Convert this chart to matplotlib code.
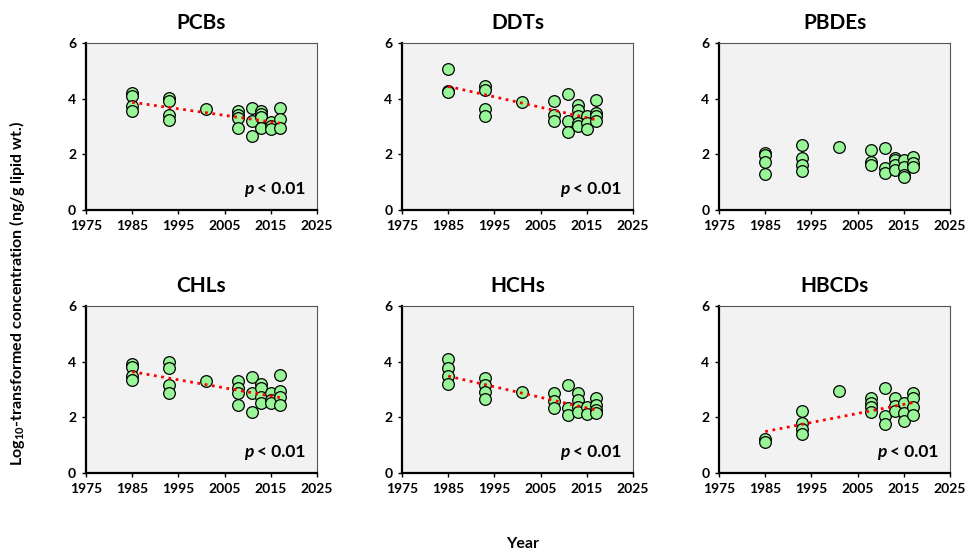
import matplotlib
matplotlib.use('Agg')
import matplotlib.pyplot as plt
import numpy as np

plt.rcParams['font.family'] = ['Lato', 'DejaVu Sans']
plt.rcParams['mathtext.fontset'] = 'custom'
plt.rcParams['mathtext.rm'] = 'Lato'
plt.rcParams['mathtext.bf'] = 'Lato:bold'

# 采样年份（每组数据对应的年份）
years_grp = [1985, 1993, 2001, 2008, 2011, 2013, 2015, 2017]

# 每个化合物每年的 log10 浓度值
pcbs = [[4.2, 4.1, 3.75, 3.54], [4.02, 3.9, 3.42, 3.22], [3.64], [3.54, 3.4, 3.3, 2.94],
        [3.66, 3.18, 2.66], [3.54, 3.46, 3.34, 2.96], [3.15, 3.0, 2.9], [3.66, 3.26, 2.94]]
ddts = [[5.08, 4.26, 4.24], [4.44, 4.3, 3.64, 3.38], [3.88], [3.93, 3.4, 3.2],
        [4.17, 3.18, 2.8], [3.78, 3.6, 3.38, 3.12, 3.0], [3.38, 3.12, 2.92], [3.96, 3.48, 3.38, 3.18]]
pbdes = [[2.06, 1.98, 1.74, 1.3], [2.34, 1.86, 1.62, 1.4], [2.28], [2.14, 1.74, 1.62],
         [2.24, 1.5, 1.32], [1.86, 1.8, 1.62, 1.44], [1.8, 1.56, 1.24, 1.2], [1.92, 1.68, 1.56]]
chls = [[3.92, 3.82, 3.48, 3.34], [4.0, 3.78, 3.16, 2.89], [3.3], [3.3, 3.04, 2.89, 2.44],
        [3.46, 2.86, 2.2], [3.19, 3.04, 2.74, 2.5], [2.86, 2.62, 2.53], [3.52, 2.96, 2.74, 2.44]]
hchs = [[4.08, 3.78, 3.48, 3.19], [3.4, 3.16, 2.92, 2.65], [2.92], [2.86, 2.59, 2.35],
        [3.16, 2.35, 2.08], [2.86, 2.62, 2.38, 2.2], [2.38, 2.12], [2.68, 2.44, 2.26, 2.14]]
hbcds = [[1.21, 1.13], [2.24, 1.81, 1.57, 1.4], [2.96], [2.71, 2.53, 2.38, 2.2],
         [3.07, 2.05, 1.76], [2.71, 2.41, 2.24], [2.53, 2.14, 1.88], [2.86, 2.68, 2.38, 2.08]]

titles = ['PCBs', 'DDTs', 'PBDEs', 'CHLs', 'HCHs', 'HBCDs']
all_data = [pcbs, ddts, pbdes, chls, hchs, hbcds]

# 回归趋势线两端的值（1985, 2017），None 表示无显著趋势
trend_years = [1985, 2017]
trends = [[3.87, 3.12], [4.44, 3.24], None, [3.64, 2.71], [3.48, 2.26], [1.49, 2.53]]
p_labels = ['< 0.01', '< 0.01', None, '< 0.01', '< 0.01', '< 0.01']

x_ticks = [1975, 1985, 1995, 2005, 2015, 2025]
y_ticks = [0, 2, 4, 6]

fig = plt.figure(figsize=(9.68, 5.54), dpi=100)

lefts = [0.0888, 0.4153, 0.7428]
bottoms = [0.621, 0.1462]
w, h = 0.2386, 0.3014

for i, (title, data) in enumerate(zip(titles, all_data)):
    ax = fig.add_axes([lefts[i % 3], bottoms[i // 3], w, h])
    ax.set_facecolor('#f2f2f2')
    xs, ys = [], []
    for yr, vals in zip(years_grp, data):
        xs += [yr] * len(vals)
        ys += vals
    ax.plot(xs, ys, 'o', ms=8.4, mfc='#98f598', mec='black', mew=0.9, zorder=3)
    if trends[i] is not None:
        ax.plot(trend_years, trends[i], ':', color='red', lw=2, zorder=4)
    if p_labels[i] is not None:
        # 先写 "< 0.01"，再把斜体 p 接在它左边
        t = ax.text(0.95, 0.095, p_labels[i], transform=ax.transAxes, ha='right', va='baseline',
                    fontsize=12.5, fontweight='bold')
        ax.annotate('p ', xy=(0, 0), xycoords=t, ha='right', va='bottom',
                    fontsize=12.5, fontweight='bold', fontstyle='italic')
    ax.set_xlim(1975, 2025)
    ax.set_ylim(0, 6)
    ax.set_xticks(x_ticks)
    ax.set_yticks(y_ticks)
    ax.tick_params(direction='out', length=3, width=1, labelsize=10, pad=4)
    for lab in ax.get_xticklabels() + ax.get_yticklabels():
        lab.set_fontweight('bold')
    ax.spines['left'].set_linewidth(1.6)
    ax.spines['bottom'].set_linewidth(1.6)
    ax.spines['top'].set_color('#555555')
    ax.spines['right'].set_color('#555555')
    ax.spines['top'].set_linewidth(0.8)
    ax.spines['right'].set_linewidth(0.8)
    ax.set_title(title, fontsize=15, fontweight='bold', pad=10)

fig.text(0.018, 0.47, r'Log$_{\mathbf{10}}$-transformed concentration (ng/g lipid wt.)',
         rotation=90, ha='center', va='center', fontsize=11.5, fontweight='bold')
fig.text(0.54, 0.005, 'Year', ha='center', va='bottom', fontsize=11.5, fontweight='bold')

fig.savefig('out.png', dpi=100)
